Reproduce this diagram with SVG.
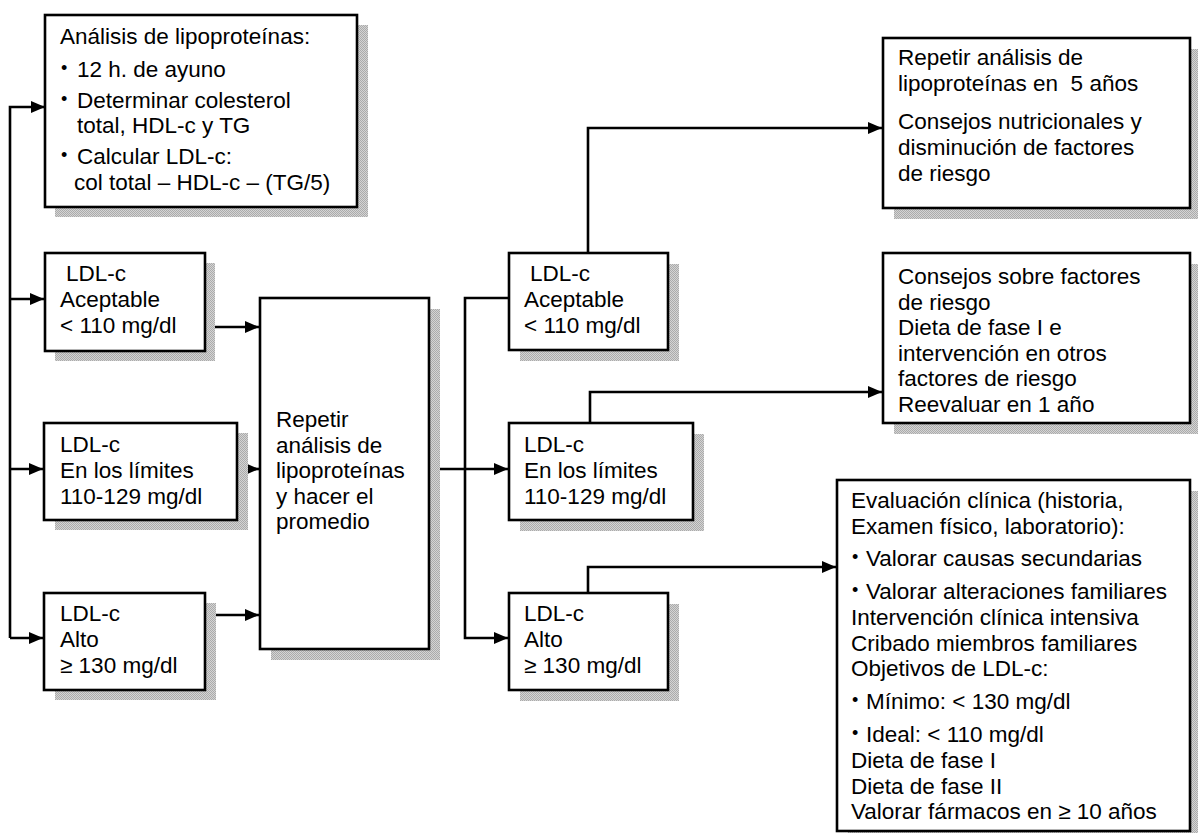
<svg xmlns="http://www.w3.org/2000/svg" width="1198" height="833" viewBox="0 0 1198 833">
<defs>
<pattern id="dots" width="2" height="2" patternUnits="userSpaceOnUse">
<rect width="2" height="2" fill="#d4d4d4"/>
<rect width="1" height="1" fill="#ababab"/>
<rect x="1" y="1" width="1" height="1" fill="#ababab"/>
</pattern>
<marker id="arr" viewBox="0 0 14 12" refX="14" refY="6" markerWidth="14" markerHeight="12" markerUnits="userSpaceOnUse" orient="auto">
<path d="M0,0 L14,6 L0,12 Z" fill="#000"/>
</marker>
</defs>
<style>
.box{fill:#fff;stroke:#000;stroke-width:2.6}
.sh{fill:url(#dots)}
.t{font-family:"Liberation Sans",Arial,sans-serif;font-size:22.5px;fill:#000}
.b{font-family:"Liberation Sans",Arial,sans-serif;font-size:18px;fill:#000}
.c{fill:none;stroke:#000;stroke-width:2.6;marker-end:url(#arr)}
</style>

<g id="connectors">
<path class="c" d="M10,638 L10,107 L45,107"/>
<path class="c" d="M10,299 L44,299"/>
<path class="c" d="M10,469 L43,469"/>
<path class="c" d="M10,638 L43,638"/>
<path class="c" d="M205,327 L259,327"/>
<path class="c" d="M238,469 L259,469"/>
<path class="c" d="M205,615 L259,615"/>
<path class="c" d="M429,469 L508,469"/>
<path class="c" d="M508,298 L465,298 L465,638 L508,638"/>
<path class="c" d="M588,253 L588,128 L882,128"/>
<path class="c" d="M590,423 L590,392 L882,392"/>
<path class="c" d="M588,593 L588,567 L836,567"/>
</g>

<g id="n-analisis">
<rect class="sh" x="55" y="25" width="313" height="192"/>
<rect class="box" x="45" y="15" width="312" height="192"/>
<text class="t" x="60" y="44">Análisis de lipoproteínas:</text>
<text class="b" x="61" y="74">•</text><text class="t" x="77" y="77">12 h. de ayuno</text>
<text class="b" x="61" y="105">•</text><text class="t" x="77" y="108">Determinar colesterol</text>
<text class="t" x="77" y="133">total, HDL-c y TG</text>
<text class="b" x="61" y="161">•</text><text class="t" x="77" y="164">Calcular LDL-c:</text>
<text class="t" x="74" y="190">col total – HDL-c – (TG/5)</text>
</g>

<g id="n-acept1">
<rect class="sh" x="55" y="263" width="160" height="98"/>
<rect class="box" x="45" y="253" width="160" height="98"/>
<text class="t" x="66" y="281">LDL-c</text>
<text class="t" x="60" y="307">Aceptable</text>
<text class="t" x="60" y="333">&lt; 110 mg/dl</text>
</g>

<g id="n-limites1">
<rect class="sh" x="55" y="433" width="193" height="97"/>
<rect class="box" x="44" y="423" width="193" height="97"/>
<text class="t" x="60" y="452">LDL-c</text>
<text class="t" x="60" y="478">En los límites</text>
<text class="t" x="60" y="504">110-129 mg/dl</text>
</g>

<g id="n-alto1">
<rect class="sh" x="55" y="603" width="161" height="97"/>
<rect class="box" x="44" y="593" width="161" height="97"/>
<text class="t" x="60" y="621">LDL-c</text>
<text class="t" x="60" y="647">Alto</text>
<text class="t" x="60" y="673">≥ 130 mg/dl</text>
</g>

<g id="n-repetir">
<rect class="sh" x="271" y="309" width="169" height="351"/>
<rect class="box" x="260" y="298" width="169" height="351"/>
<text class="t" x="276" y="427">Repetir</text>
<text class="t" x="276" y="452.6">análisis de</text>
<text class="t" x="276" y="478">lipoproteínas</text>
<text class="t" x="276" y="504">y hacer el</text>
<text class="t" x="276" y="529">promedio</text>
</g>

<g id="n-acept2">
<rect class="sh" x="520" y="264" width="159" height="97"/>
<rect class="box" x="509" y="253" width="159" height="97"/>
<text class="t" x="530" y="281">LDL-c</text>
<text class="t" x="524" y="307">Aceptable</text>
<text class="t" x="524" y="333">&lt; 110 mg/dl</text>
</g>

<g id="n-limites2">
<rect class="sh" x="520" y="434" width="184" height="97"/>
<rect class="box" x="509" y="423" width="184" height="97"/>
<text class="t" x="524" y="452">LDL-c</text>
<text class="t" x="524" y="478">En los límites</text>
<text class="t" x="524" y="504">110-129 mg/dl</text>
</g>

<g id="n-alto2">
<rect class="sh" x="520" y="604" width="159" height="97"/>
<rect class="box" x="509" y="593" width="159" height="97"/>
<text class="t" x="524" y="621">LDL-c</text>
<text class="t" x="524" y="647">Alto</text>
<text class="t" x="524" y="673">≥ 130 mg/dl</text>
</g>

<g id="n-5anos">
<rect class="sh" x="894" y="49" width="307" height="170"/>
<rect class="box" x="883" y="38" width="307" height="170"/>
<text class="t" x="898" y="65">Repetir análisis de</text>
<text class="t" x="898" y="91" xml:space="preserve">lipoproteínas en  5 años</text>
<text class="t" x="898" y="129">Consejos nutricionales y</text>
<text class="t" x="898" y="155">disminución de factores</text>
<text class="t" x="898" y="181">de riesgo</text>
</g>

<g id="n-consejos">
<rect class="sh" x="894" y="264" width="307" height="170"/>
<rect class="box" x="883" y="253" width="307" height="170"/>
<text class="t" x="898" y="284">Consejos sobre factores</text>
<text class="t" x="898" y="309.6">de riesgo</text>
<text class="t" x="898" y="335.2">Dieta de fase I e</text>
<text class="t" x="898" y="360.8">intervención en otros</text>
<text class="t" x="898" y="386.4">factores de riesgo</text>
<text class="t" x="898" y="412">Reevaluar en 1 año</text>
</g>

<g id="n-evaluacion">
<rect class="sh" x="848" y="491" width="353" height="351"/>
<rect class="box" x="837" y="480" width="353" height="351"/>
<text class="t" x="851" y="508">Evaluación clínica (historia,</text>
<text class="t" x="851" y="533.6">Examen físico, laboratorio):</text>
<text class="b" x="852" y="563">•</text><text class="t" x="866" y="566">Valorar causas secundarias</text>
<text class="b" x="852" y="596">•</text><text class="t" x="866" y="599">Valorar alteraciones familiares</text>
<text class="t" x="851" y="625">Intervención clínica intensiva</text>
<text class="t" x="851" y="650.6">Cribado miembros familiares</text>
<text class="t" x="851" y="676">Objetivos de LDL-c:</text>
<text class="b" x="852" y="706">•</text><text class="t" x="866" y="709">Mínimo: &lt; 130 mg/dl</text>
<text class="b" x="852" y="739">•</text><text class="t" x="866" y="742">Ideal: &lt; 110 mg/dl</text>
<text class="t" x="851" y="768">Dieta de fase I</text>
<text class="t" x="851" y="793.6">Dieta de fase II</text>
<text class="t" x="851" y="819">Valorar fármacos en ≥ 10 años</text>
</g>
</svg>
